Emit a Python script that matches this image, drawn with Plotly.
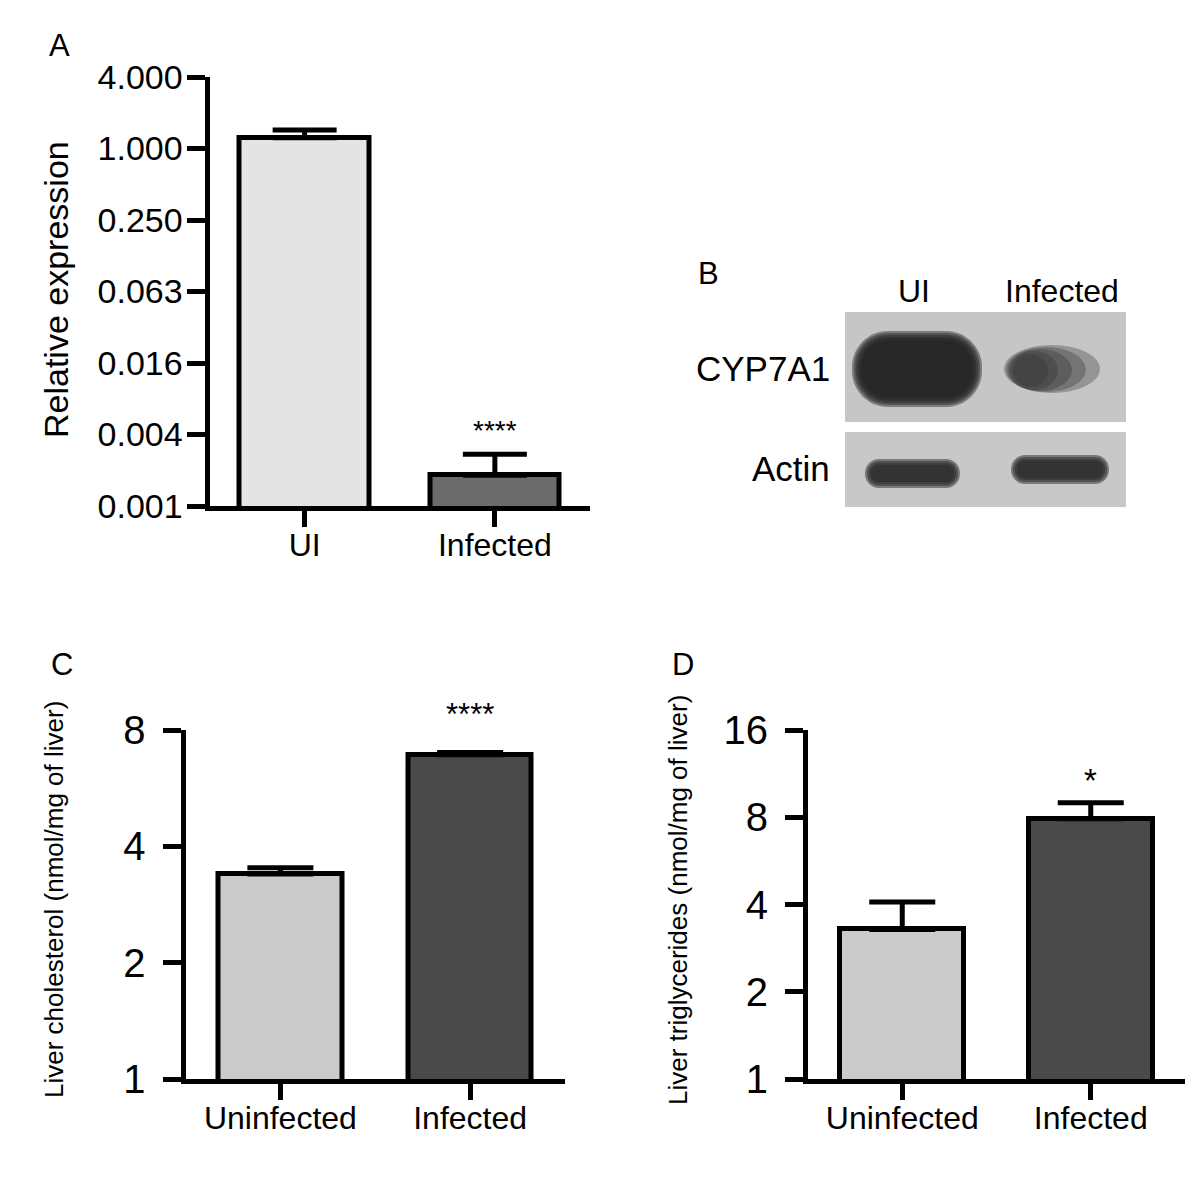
import numpy as np
import plotly.graph_objects as go

# ---------------- data ----------------
a_categories = ["UI", "Infected"]
a_values = [1.23, 0.00177]
a_err_plus = [0.20, 0.00089]
a_tickvals = [0.0009765625, 0.00390625, 0.015625, 0.0625, 0.25, 1.0, 4.0]
a_ticktext = ["0.001", "0.004", "0.016", "0.063", "0.250", "1.000", "4.000"]
a_colors = ["#e4e4e4", "#6b6b6b"]

c_categories = ["Uninfected", "Infected"]
c_values = [3.39, 6.9]
c_err_plus = [0.13, 0.10]
c_tickvals = [1, 2, 4, 8]
c_ticktext = ["1", "2", "4", "8"]

d_categories = ["Uninfected", "Infected"]
d_values = [3.28, 7.9]
d_err_plus = [0.80, 1.07]
d_tickvals = [1, 2, 4, 8, 16]
d_ticktext = ["1", "2", "4", "8", "16"]
cd_colors = ["#cbcbcb", "#4a4a4a"]

blot_lanes = ["UI", "Infected"]
blot_rows = ["CYP7A1", "Actin"]

# page has an 8px body margin: figure fills the rest of the 1200x1183 window
OFF = 8
W, H = 1200 - OFF, 1183 - OFF
FONT = "Liberation Sans, Arial, sans-serif"


def X(px):
    return (px - OFF) / W


def Y(py):
    return 1 - (py - OFF) / H


fig = go.Figure()

err_style = dict(type="data", symmetric=False, thickness=5, color="black")

fig.add_trace(go.Bar(
    x=a_categories, y=a_values, width=0.68,
    marker=dict(color=a_colors, line=dict(color="black", width=5)),
    error_y=dict(array=a_err_plus, arrayminus=[0, 0], width=32, **err_style),
    xaxis="x", yaxis="y", showlegend=False))

fig.add_trace(go.Bar(
    x=c_categories, y=c_values, width=0.65,
    marker=dict(color=cd_colors, line=dict(color="black", width=5)),
    error_y=dict(array=c_err_plus, arrayminus=[0, 0], width=33, **err_style),
    xaxis="x2", yaxis="y2", showlegend=False))

fig.add_trace(go.Bar(
    x=d_categories, y=d_values, width=0.66,
    marker=dict(color=cd_colors, line=dict(color="black", width=5)),
    error_y=dict(array=d_err_plus, arrayminus=[0, 0], width=33, **err_style),
    xaxis="x3", yaxis="y3", showlegend=False))

xcommon = dict(showline=True, linewidth=5, linecolor="black", ticks="outside",
               ticklen=16, tickwidth=5, tickcolor="black", showgrid=False,
               zeroline=False, range=[-0.5, 1.5], fixedrange=True, type="category",
               automargin=False, ticklabelstandoff=-9, tickfont=dict(size=32))
ycommon = dict(showline=True, linewidth=5, linecolor="black", ticks="outside",
               ticklen=18, tickwidth=5, tickcolor="black", showgrid=False,
               zeroline=False, type="log", fixedrange=True, automargin=False)

fig.update_layout(
    width=W, height=H,
    margin=dict(l=0, r=0, t=0, b=0, autoexpand=False),
    paper_bgcolor="white", plot_bgcolor="white",
    font=dict(family=FONT, color="black"),
    bargap=0,
    xaxis=dict(domain=[X(209.5), X(590)], anchor="y", **xcommon),
    yaxis=dict(domain=[Y(506), Y(77)], anchor="x",
               range=[np.log10(a_tickvals[0]), np.log10(a_tickvals[-1])],
               tickvals=a_tickvals, ticktext=a_ticktext, ticklabelstandoff=-3,
               tickfont=dict(size=34), **ycommon),
    xaxis2=dict(domain=[X(185.5), X(565)], anchor="y2", **xcommon),
    yaxis2=dict(domain=[Y(1079), Y(730)], anchor="x2",
                range=[0, np.log10(c_tickvals[-1])],
                tickvals=c_tickvals, ticktext=c_ticktext, ticklabelstandoff=9,
                tickfont=dict(size=40), **ycommon),
    xaxis3=dict(domain=[X(808), X(1185)], anchor="y3", **xcommon),
    yaxis3=dict(domain=[Y(1079), Y(730)], anchor="x3",
                range=[0, np.log10(d_tickvals[-1])],
                tickvals=d_tickvals, ticktext=d_ticktext, ticklabelstandoff=9,
                tickfont=dict(size=40), **ycommon),
)

ann = []


def txt(x, y, s, size, xanchor="center", yanchor="middle", **kw):
    d = dict(x=X(x), y=Y(y), xref="paper", yref="paper", text=s, showarrow=False,
             xanchor=xanchor, yanchor=yanchor,
             font=dict(size=size, family=FONT, color="black"))
    d.update(kw)
    ann.append(d)


# panel letters
txt(59, 46, "A", 31)
txt(708, 273, "B", 31)
txt(62, 664, "C", 31)
txt(683, 664, "D", 31)

# y-axis titles
txt(56, 290, "Relative expression", 34, textangle=-90)
txt(54, 900, "Liver cholesterol (nmol/mg of liver)", 26, textangle=-90)
txt(678, 900, "Liver triglycerides (nmol/mg of liver)", 26, textangle=-90)

# significance stars (data coords)
ann.append(dict(x=a_categories[1], y=np.log10(a_values[1] + a_err_plus[1]), xref="x", yref="y",
                text="****", showarrow=False, xanchor="center", yanchor="middle", yshift=24,
                font=dict(size=28, family=FONT)))
ann.append(dict(x=c_categories[1], y=np.log10(c_values[1] + c_err_plus[1]), xref="x2", yref="y2",
                text="****", showarrow=False, xanchor="center", yanchor="middle", yshift=38,
                font=dict(size=31, family=FONT)))
ann.append(dict(x=d_categories[1], y=np.log10(d_values[1] + d_err_plus[1]), xref="x3", yref="y3",
                text="*", showarrow=False, xanchor="center", yanchor="middle", yshift=22,
                font=dict(size=33, family=FONT)))

# blot labels
txt(914, 291, blot_lanes[0], 32)
txt(1062, 291, blot_lanes[1], 32)
txt(832, 369, blot_rows[0], 35, xanchor="right")
txt(832, 468, blot_rows[1], 35, xanchor="right")

shapes = []


def rect(x0, y0, x1, y1, color, opacity=1.0):
    shapes.append(dict(type="rect", xref="paper", yref="paper", x0=X(x0), x1=X(x1),
                       y0=Y(y1), y1=Y(y0), fillcolor=color, opacity=opacity,
                       line=dict(width=0), layer="above"))


def ellipse(x0, y0, x1, y1, color, opacity=1.0):
    shapes.append(dict(type="circle", xref="paper", yref="paper", x0=X(x0), x1=X(x1),
                       y0=Y(y1), y1=Y(y0), fillcolor=color, opacity=opacity,
                       line=dict(width=0), layer="above"))


def rrect(x0, y0, x1, y1, r, color, opacity=1.0):
    k = 0.55
    p = (f"M {X(x0 + r)},{Y(y0)} L {X(x1 - r)},{Y(y0)} "
         f"C {X(x1 - r + k * r)},{Y(y0)} {X(x1)},{Y(y0 + r - k * r)} {X(x1)},{Y(y0 + r)} "
         f"L {X(x1)},{Y(y1 - r)} "
         f"C {X(x1)},{Y(y1 - r + k * r)} {X(x1 - r + k * r)},{Y(y1)} {X(x1 - r)},{Y(y1)} "
         f"L {X(x0 + r)},{Y(y1)} "
         f"C {X(x0 + r - k * r)},{Y(y1)} {X(x0)},{Y(y1 - r + k * r)} {X(x0)},{Y(y1 - r)} "
         f"L {X(x0)},{Y(y0 + r)} "
         f"C {X(x0)},{Y(y0 + r - k * r)} {X(x0 + r - k * r)},{Y(y0)} {X(x0 + r)},{Y(y0)} Z")
    shapes.append(dict(type="path", xref="paper", yref="paper", path=p,
                       fillcolor=color, opacity=opacity, line=dict(width=0), layer="above"))


def soft_rrect(x0, y0, x1, y1, r, color, steps=(10, 8, 6, 4, 2, 0), op=0.45):
    for e in steps:
        rrect(x0 - e, y0 - e, x1 + e, y1 + e, r + e, color, op)


# blot membranes
rect(845, 312, 1126, 422, "#c6c6c6")
rect(845, 432, 1126, 507, "#c8c8c8")

# CYP7A1 UI band
soft_rrect(862, 341, 972, 397, 26, "#242424")
# CYP7A1 infected band (dark on the left, fading to the right)
for (ex0, ey0, ex1, ey1) in [(1004, 345, 1100, 393), (1006, 347, 1086, 392),
                             (1008, 349, 1072, 391), (1010, 351, 1058, 390),
                             (1013, 354, 1048, 387)]:
    ellipse(ex0, ey0, ex1, ey1, "#303030", 0.33)

# actin bands
soft_rrect(871, 465, 954, 482, 8, "#2a2a2a", steps=(6, 4, 2, 0), op=0.5)
soft_rrect(1017, 461, 1103, 478, 8, "#2a2a2a", steps=(6, 4, 2, 0), op=0.5)

fig.update_layout(annotations=ann, shapes=shapes)

fig.write_html("out.html")
